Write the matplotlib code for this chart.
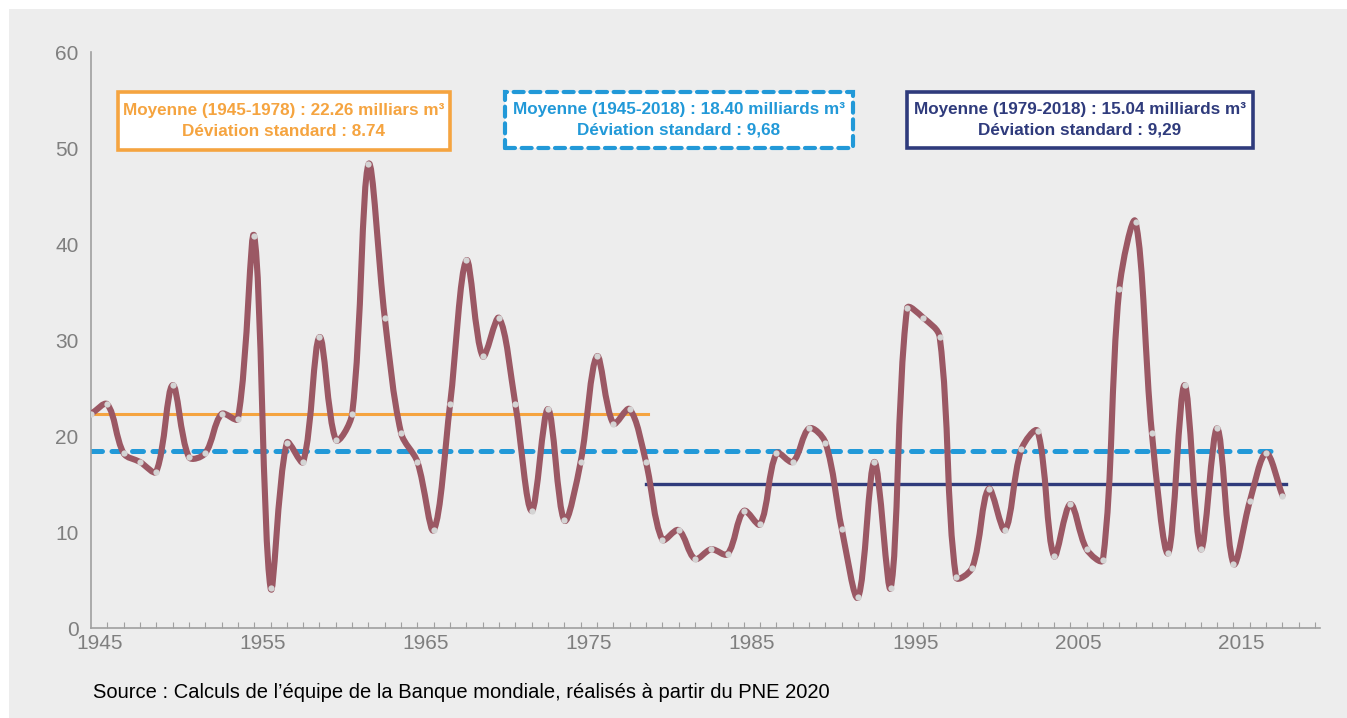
import numpy as np
import matplotlib
matplotlib.use("Agg")
import matplotlib.pyplot as plt
from matplotlib.path import Path
from matplotlib.patches import PathPatch, Rectangle

# annual values (milliards m3)
years = list(range(1945, 2019))
values = [
    22.3, 23.3, 18.2, 17.3, 16.3, 25.3, 17.8, 18.2, 22.3, 21.8,  # 1945-1954
    40.8, 4.2, 19.3, 17.3, 30.3, 19.6, 22.3, 48.3, 32.3, 20.3,   # 1955-1964
    17.3, 10.2, 23.3, 38.3, 28.3, 32.3, 23.3, 12.2, 22.8, 11.2,  # 1965-1974
    17.3, 28.3, 21.3, 22.8, 17.3, 9.2, 10.2, 7.2, 8.2, 7.7,      # 1975-1984
    12.2, 10.8, 18.2, 17.3, 20.8, 19.3, 10.3, 3.2, 17.3, 4.2,    # 1985-1994
    33.3, 32.3, 30.3, 5.3, 6.3, 14.5, 10.2, 18.6, 20.5, 7.5,     # 1995-2004
    12.9, 8.2, 7.1, 35.3, 42.3, 20.3, 7.8, 25.3, 8.2, 20.8,      # 2005-2014
    6.7, 13.2, 18.2, 13.8,                                       # 2015-2018
]

mean_1 = 22.26
mean_all = 18.40
mean_2 = 15.04
span_1 = (1945, 1979.1)
span_all = (1945, 2017.8)
span_2 = (1979.0, 2018.2)

label_years = [1945, 1955, 1965, 1975, 1985, 1995, 2005, 2015]
box_texts = [
    "Moyenne (1945-1978) : 22.26 milliars m³\nDéviation standard : 8.74",
    "Moyenne (1945-2018) : 18.40 milliards m³\nDéviation standard : 9,68",
    "Moyenne (1979-2018) : 15.04 milliards m³\nDéviation standard : 9,29",
]
source = "Source : Calculs de l’équipe de la Banque mondiale, réalisés à partir du PNE 2020"

c_line = "#9B5864"
c_orange = "#F5A440"
c_blue = "#2299D8"
c_navy = "#2F3B7C"
c_bg = "#EDEDED"
c_tick = "#7F7F7F"

plt.rcParams['font.family'] = ['Liberation Sans', 'DejaVu Sans']

W, H = 1347, 718
fig = plt.figure(figsize=(W / 100, H / 100), dpi=100)
fig.patch.set_facecolor("white")
fig.patches.append(Rectangle((9 / W, 0), 1, 1 - 9 / H, transform=fig.transFigure,
                             facecolor=c_bg, edgecolor="none", zorder=-10))

ax = fig.add_axes([91 / W, 1 - 628 / H, (1320 - 91) / W, (628 - 52) / H])
ax.patch.set_alpha(0)
ax.set_xlim(1945, 2020.3)
ax.set_ylim(0, 60)


def smooth_path(ax, x, y, t=1 / 3):
    # spreadsheet-like smoothed line: bezier handles weighted by the
    # on-screen length of the neighbouring segments (less overshoot)
    pts = ax.transData.transform(np.column_stack([x, y]).astype(float))
    n = len(pts)
    seg = np.hypot(*np.diff(pts, axis=0).T)
    verts = [pts[0]]
    codes = [Path.MOVETO]
    for i in range(n - 1):
        p1, p2 = pts[i], pts[i + 1]
        if i > 0:
            d = pts[i + 1] - pts[i - 1]
            c1 = p1 + d * t * seg[i] / (seg[i - 1] + seg[i])
        else:
            c1 = p1 + (p2 - p1) * t
        if i + 2 < n:
            d = pts[i + 2] - pts[i]
            c2 = p2 - d * t * seg[i] / (seg[i] + seg[i + 1])
        else:
            c2 = p2 - (p2 - p1) * t
        verts += [c1, c2, p2]
        codes += [Path.CURVE4] * 3
    verts = ax.transData.inverted().transform(np.array(verts))
    return Path(verts, codes)


ax.add_patch(PathPatch(smooth_path(ax, years, values), facecolor="none", edgecolor=c_line,
                       lw=4.4, capstyle="round", joinstyle="round", zorder=3))
ax.plot(years, values, "o", ms=4.5, color="#D4D4D4", mec="none", zorder=4)

ax.plot(span_1, [mean_1, mean_1], color=c_orange, lw=2.2, zorder=2)
ax.plot(span_2, [mean_2, mean_2], color=c_navy, lw=2.4, zorder=2)
ax.plot(span_all, [mean_all, mean_all], color=c_blue, lw=3.6, zorder=2,
        dashes=(2.2, 1.9), dash_capstyle="round")

ax.set_yticks(range(0, 61, 10))
ax.set_xticks([y + 0.5 for y in label_years])
ax.set_xticklabels([str(y) for y in label_years])
ax.set_xticks(range(1946, 2021), minor=True)
ax.tick_params(axis="x", which="major", length=0, pad=4, labelsize=15, labelcolor=c_tick)
ax.tick_params(axis="x", which="minor", direction="in", length=4, width=0.8, color="#A0A0A0")
ax.tick_params(axis="y", length=0, pad=9, labelsize=15, labelcolor=c_tick)
for s in ["top", "right"]:
    ax.spines[s].set_visible(False)
for s in ["left", "bottom"]:
    ax.spines[s].set_color("#A0A0A0")
    ax.spines[s].set_linewidth(1.2)

# annotation boxes (pixel layout)
boxes = [
    ((118, 92, 450, 150), c_orange, "-"),
    ((505, 92, 853, 148), c_blue, "--"),
    ((907, 92, 1253, 148), c_navy, "-"),
]
for i, ((x0, y0, x1, y1), col, ls) in enumerate(boxes):
    rect = Rectangle((x0 / W, 1 - y1 / H), (x1 - x0) / W, (y1 - y0) / H,
                     transform=fig.transFigure, facecolor="white", edgecolor=col,
                     lw=2.6 if ls == "-" else 3.0, zorder=5)
    if ls == "--":
        rect.set_linestyle((0, (2.4, 1.6)))
        rect.set_capstyle("round")
    fig.patches.append(rect)
    fig.text((x0 + x1) / 2 / W, 1 - (y0 + y1) / 2 / H, box_texts[i], ha="center",
             va="center", color=col, fontsize=12.3, fontweight="bold",
             linespacing=1.45, zorder=6)

fig.text(93 / W, 1 - 692 / H, source, ha="left", va="center", fontsize=14.5, color="black")

fig.savefig("out.png", dpi=100, facecolor=fig.get_facecolor())
